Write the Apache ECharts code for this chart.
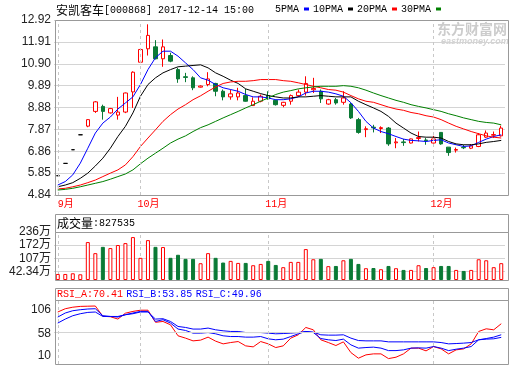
<!DOCTYPE html>
<html><head><meta charset="utf-8">
<script src="https://cdn.jsdelivr.net/npm/echarts@6/dist/echarts.min.js"></script>
<style>html,body{margin:0;padding:0;background:#fff}#c{width:520px;height:365px}</style>
</head><body><div id="c"></div>
<script>
const dates = ['2017-09-15','2017-09-18','2017-09-19','2017-09-20','2017-09-21','2017-09-22','2017-09-25','2017-09-26','2017-09-27','2017-09-28','2017-09-29',
'2017-10-09','2017-10-10','2017-10-11','2017-10-12','2017-10-13','2017-10-16','2017-10-17','2017-10-18','2017-10-19','2017-10-20','2017-10-23','2017-10-24','2017-10-25','2017-10-26','2017-10-27','2017-10-30','2017-10-31',
'2017-11-01','2017-11-02','2017-11-03','2017-11-06','2017-11-07','2017-11-08','2017-11-09','2017-11-10','2017-11-13','2017-11-14','2017-11-15','2017-11-16','2017-11-17','2017-11-20','2017-11-21','2017-11-22','2017-11-23','2017-11-24','2017-11-27','2017-11-28','2017-11-29','2017-11-30',
'2017-12-01','2017-12-04','2017-12-05','2017-12-06','2017-12-07','2017-12-08','2017-12-11','2017-12-12','2017-12-13','2017-12-14'];
const opens = [5.73,6.30,6.93,7.62,8.02,8.70,8.93,8.63,8.53,8.67,
9.60,10.97,11.59,11.68,11.13,11.28,10.63,10.30,10.25,9.82,
9.94,9.99,9.63,9.37,9.37,9.43,8.97,9.17,9.43,9.21,
8.98,9.17,9.43,9.59,9.70,9.63,9.04,9.24,9.12,9.04,
8.32,7.86,7.97,7.91,7.93,7.25,7.29,7.24,7.45,7.38,
7.24,7.73,7.05,6.91,7.04,7.00,7.08,7.51,7.60,7.57];
const closes = [5.73,6.30,6.93,7.62,8.32,9.14,8.70,8.83,8.67,9.55,
10.51,11.56,12.21,11.13,11.68,11.02,10.20,10.27,9.79,9.87,
10.20,9.63,9.37,9.51,9.55,9.17,9.17,9.40,9.28,9.01,
9.12,9.43,9.59,9.99,9.76,9.28,9.24,9.09,9.32,8.40,
7.73,7.90,7.94,7.95,7.20,7.29,7.26,7.43,7.49,7.35,
7.43,7.20,6.80,6.94,7.02,7.11,7.62,7.70,7.63,7.93];
const lows = [5.73,6.30,6.93,7.62,7.97,8.63,8.32,8.60,8.32,8.62,
8.86,10.93,11.28,11.10,10.76,10.97,10.02,10.05,9.68,9.80,
9.86,9.40,9.21,9.24,9.21,9.15,8.95,9.12,9.24,8.97,
8.89,9.01,9.37,9.43,9.55,9.09,9.01,9.01,9.01,8.35,
7.67,7.51,7.73,7.70,7.11,7.00,7.11,7.22,7.31,7.16,
7.22,7.16,6.65,6.80,6.96,6.96,7.05,7.47,7.47,7.54];
const highs = [5.73,6.30,6.93,7.62,8.34,9.18,9.01,8.86,9.37,9.57,
10.55,11.58,12.72,11.99,12.02,11.41,10.71,10.48,10.32,9.90,
10.51,10.02,9.71,9.71,9.79,9.74,9.35,9.48,9.63,9.24,
9.14,9.48,9.71,10.32,10.25,9.71,9.28,9.32,9.63,9.10,
8.40,8.01,8.08,8.01,7.98,7.47,7.43,7.45,7.77,7.47,
7.57,7.74,7.05,7.03,7.16,7.19,7.70,7.82,7.77,8.04];
// volume in 万
const volumes = [29.7,29.7,33,28,186.5,132,163,157,172,181.5,
211,109,196,163,162,109,124,104,104,82.5,
132,109,85.8,94,84,84,72.6,79,94,74,
63,89,89,152,102,104,68,69,97,104,
79,58,59,53,69,58,49.5,49.5,72.6,59,
63,69,69,49.5,44.5,49.5,102,97,63,82.7535];
const ma5 = [5.30,5.46,5.77,6.31,7.00,7.70,8.16,8.44,8.81,9.09,
9.37,9.94,10.63,11.18,11.48,11.48,11.25,10.94,10.63,10.25,
10.14,9.94,9.79,9.71,9.63,9.48,9.37,9.37,9.32,9.24,
9.24,9.28,9.37,9.55,9.63,9.63,9.59,9.51,9.40,9.10,
8.70,8.24,7.93,7.77,7.67,7.54,7.42,7.36,7.34,7.31,
7.36,7.39,7.24,7.16,7.08,7.11,7.27,7.42,7.54,7.62];
const ma10 = [5.22,5.30,5.41,5.61,5.85,6.18,6.54,7.00,7.54,8.01,
8.63,9.40,9.94,10.25,10.48,10.63,10.76,10.79,10.82,10.85,
10.71,10.48,10.32,10.14,9.99,9.74,9.63,9.52,9.43,9.37,
9.32,9.32,9.37,9.37,9.40,9.43,9.40,9.37,9.37,9.37,
9.17,9.01,8.86,8.70,8.47,8.16,7.93,7.70,7.54,7.51,
7.51,7.47,7.31,7.20,7.16,7.16,7.20,7.27,7.31,7.36];
const ma20 = [5.12,5.15,5.22,5.30,5.41,5.53,5.69,5.85,6.00,6.23,
6.61,7.08,7.47,7.85,8.24,8.55,8.81,9.01,9.24,9.42,
9.63,9.83,9.99,10.06,10.09,10.09,10.12,10.17,10.17,10.17,
10.12,10.09,10.02,9.94,9.86,9.79,9.71,9.68,9.59,9.43,
9.28,9.17,9.12,9.01,8.90,8.81,8.75,8.65,8.59,8.50,
8.44,8.32,8.16,8.01,7.89,7.77,7.67,7.57,7.51,7.47];
const ma30 = [5.07,5.10,5.15,5.22,5.30,5.38,5.46,5.57,5.69,5.81,
6.00,6.28,6.54,6.77,7.00,7.24,7.42,7.57,7.77,7.95,
8.08,8.24,8.40,8.55,8.70,8.86,9.01,9.17,9.32,9.48,
9.59,9.66,9.74,9.79,9.83,9.86,9.86,9.86,9.89,9.86,
9.79,9.68,9.55,9.43,9.32,9.21,9.12,9.01,8.93,8.86,
8.78,8.70,8.59,8.50,8.40,8.32,8.24,8.19,8.16,8.08];
const rsiA = [88.0,92.9,95.2,96.4,96.7,97.0,81.6,80.9,77.4,86.2,
88.9,90.7,90.7,72.6,73.8,68.8,52.3,48.8,44.7,45.8,
50.3,44.3,40.2,42.2,43.7,37.2,35.7,43.7,40.2,34.7,
37.2,48.8,53.8,64.8,61.3,46.3,42.2,37.7,43.2,27.1,
18.7,23.7,25.2,25.2,18.1,20.2,25.2,33.8,33.8,29.7,
36.2,32.7,25.2,31.2,32.7,40.2,58.8,62.8,61.3,70.41];
const rsiB = [80.4,86.5,89.9,91.4,92.5,92.9,82.4,81.3,80.4,83.9,
86.5,88.9,88.9,73.8,76.4,71.4,62.4,60.3,56.3,56.3,
57.2,55.3,52.3,51.2,51.2,50.3,50.3,51.2,47.8,46.3,
47.3,51.2,55.3,58.8,57.2,48.2,46.3,45.2,47.3,38.7,
33.8,34.7,35.3,33.8,30.1,30.1,31.2,33.8,34.2,33.8,
36.2,33.8,30.1,32.2,33.8,36.2,46.3,48.2,50.3,53.85];
const rsiC = [71.4,77.4,82.4,85.4,87.4,88.0,81.3,81.3,81.3,83.9,
85.4,88.0,88.0,77.4,77.9,73.8,66.3,64.8,62.4,62.4,
63.9,61.3,59.8,58.8,58.8,57.2,57.2,57.2,56.3,55.3,
55.7,56.3,57.2,58.8,57.8,53.8,53.3,53.3,53.8,48.8,
45.2,44.7,44.7,44.7,43.2,43.2,43.2,43.2,43.2,43.2,
43.2,42.2,40.2,40.7,41.3,42.2,46.3,47.3,47.8,49.96];
const priceTicks = [4.84,5.85,6.86,7.87,8.88,9.89,10.90,11.91,12.92];
const volTicks = [0,42.34,107,172,236];
const rsiTicks = [10,58,106];

const RED = '#ff0000', GREEN = '#0a7a35', GRID = '#d4d4d4', FRAME = '#999999', DASH = '#c8c8c8';
const monthStart = dates.map((d,i)=> i===0 || d.slice(5,7)!==dates[i-1].slice(5,7));
const monthDates = dates.filter((d,i)=>monthStart[i]);
const vLines = monthDates.map(d=>({xAxis:d, lineStyle:{color:DASH,type:[3,3],width:1}}));
const hLine = v => ({yAxis:v, lineStyle:{color:GRID,type:'solid',width:1}});
const ohlc = dates.map((d,i)=>[opens[i],closes[i],lows[i],highs[i]]);
const volData = volumes.map((v,i)=>{
  const up = closes[i] >= opens[i];
  return {value:v, itemStyle:{color: up?'#ffffff':GREEN, borderColor: up?RED:GREEN, borderWidth:1}};
});
const G = {left:54, width:451};
const mkX = (gi, show) => ({
  type:'category', gridIndex:gi, data:dates, boundaryGap:true,
  axisLine:{show:false}, axisTick:{show:false}, splitLine:{show:false},
  axisLabel: show ? {
    show:true, color:RED, fontSize:10, fontFamily:'Liberation Mono, Noto Sans CJK SC', margin:4,
    padding:[0,0,0,16],
    interval:(idx)=>monthStart[idx],
    formatter:(v)=>parseInt(v.slice(5,7),10)+'月'
  } : {show:false}
});
const lblBase = {color:'#222', fontSize:12, fontFamily:'Liberation Sans, Noto Sans CJK SC', margin:3};
const rf = {fontSize:12, fontFamily:'Liberation Sans', color:'#222'};
const maLine = (name, data, color) => ({
  name, type:'line', data, xAxisIndex:0, yAxisIndex:0, symbol:'none', showSymbol:false,
  lineStyle:{color, width:1}, itemStyle:{color}, z:3, animation:false, silent:true
});
const option = {
  animation:false,
  backgroundColor:'#ffffff',
  legend:{
    data:['5PMA','10PMA','20PMA','30PMA'], left:275, top:4, padding:0, align:'right', icon:'rect',
    itemWidth:5, itemHeight:3, itemGap:4, selectedMode:false,
    textStyle:{fontFamily:'Liberation Mono', fontSize:10, color:'#000'}
  },
  grid:[
    {left:G.left, width:G.width, top:20, height:175},
    {left:G.left, width:G.width, top:232, height:48},
    {left:G.left, width:G.width, top:300, height:64}
  ],
  xAxis:[mkX(0,true), mkX(1,false), mkX(2,false)],
  yAxis:[
    {type:'value', gridIndex:0, min:4.84, max:12.92, axisLine:{show:false},
     axisTick:{show:false, customValues:priceTicks},
     splitLine:{show:true, lineStyle:{color:GRID}},
     axisLabel:Object.assign({}, lblBase, {customValues:priceTicks, formatter:v=>v.toFixed(2)})},
    {type:'value', gridIndex:1, min:0, max:236, axisLine:{show:false},
     axisTick:{show:false, customValues:volTicks}, splitLine:{show:false},
     axisLabel:Object.assign({}, lblBase, {customValues:volTicks, formatter:v=> v===0?'0':v+'万'})},
    {type:'value', gridIndex:2, min:10, max:106, axisLine:{show:false},
     axisTick:{show:false, customValues:rsiTicks}, splitLine:{show:false},
     axisLabel:Object.assign({}, lblBase, {customValues:rsiTicks,
       formatter:v=> v===106?'{t|106}':(v===10?'{b|10}':'{m|'+v+'}'),
       rich:{t:Object.assign({padding:[19,0,0,0]},rf), b:Object.assign({padding:[0,0,17,0]},rf), m:Object.assign({padding:[4,0,0,0]},rf)}})}
  ],
  series:[
    {name:'K', type:'candlestick', data:ohlc, xAxisIndex:0, yAxisIndex:0, barWidth:4, z:2,
     itemStyle:{color:'#ffffff', color0:GREEN, borderColor:RED, borderColor0:GREEN, borderColorDoji:'#000000', borderWidth:1},
     markLine:{silent:true, symbol:['none','none'], label:{show:false}, animation:false, data:vLines}},
    maLine('5PMA', ma5, '#0000ff'),
    maLine('10PMA', ma10, '#000000'),
    maLine('20PMA', ma20, '#ff0000'),
    maLine('30PMA', ma30, '#008000'),
    {name:'VOL', type:'bar', data:volData, xAxisIndex:1, yAxisIndex:1, barWidth:4, silent:true,
     markLine:{silent:true, symbol:['none','none'], label:{show:false}, animation:false,
       data: vLines.concat(volTicks.slice(1,4).map(hLine)), z:0}},
    {name:'RSI_A', type:'line', data:rsiA, xAxisIndex:2, yAxisIndex:2, symbol:'none', lineStyle:{color:RED,width:1}, silent:true,
     markLine:{silent:true, symbol:['none','none'], label:{show:false}, animation:false,
       data: vLines.concat([hLine(58)])}},
    {name:'RSI_B', type:'line', data:rsiB, xAxisIndex:2, yAxisIndex:2, symbol:'none', lineStyle:{color:'#0000ff',width:1}, silent:true},
    {name:'RSI_C', type:'line', data:rsiC, xAxisIndex:2, yAxisIndex:2, symbol:'none', lineStyle:{color:'#0000ff',width:1}, silent:true}
  ],
  graphic:[
    {type:'text', x:56, y:10, style:{text:'{a|安凯客车}{b|[000868] '+dates[dates.length-1]+' 15:00}', verticalAlign:'middle',
      rich:{a:{fontFamily:'Noto Sans CJK SC', fontSize:12, fill:'#000'}, b:{fontFamily:'Liberation Mono', fontSize:10, fill:'#000'}}}},
    {type:'text', x:437, y:22, z:0, style:{text:'东方财富网', fontFamily:'Noto Sans CJK SC', fontWeight:'bold', fontSize:14, fill:'#cccccc'}},
    {type:'text', x:441, y:37, z:0, style:{text:'eastmoney.com', fontFamily:'Liberation Sans', fontWeight:'bold', fontStyle:'italic', fontSize:9, fill:'#d2d2d2'}},
    {type:'rect', shape:{x:55.5,y:20.5,width:453,height:175}, style:{fill:'transparent', stroke:FRAME, lineWidth:1}, z:50, silent:true},
    {type:'rect', shape:{x:55.5,y:214.5,width:453,height:18}, style:{fill:'transparent', stroke:FRAME, lineWidth:1}, z:50, silent:true},
    {type:'rect', shape:{x:55.5,y:232.5,width:453,height:48}, style:{fill:'transparent', stroke:FRAME, lineWidth:1}, z:50, silent:true},
    {type:'rect', shape:{x:55.5,y:288.5,width:453,height:12}, style:{fill:'transparent', stroke:FRAME, lineWidth:1}, z:50, silent:true},
    {type:'rect', shape:{x:55.5,y:300.5,width:453,height:64}, style:{fill:'transparent', stroke:FRAME, lineWidth:1}, z:50, silent:true},
    {type:'text', x:57, y:223.5, style:{text:'{a|成交量}{b|:'+Math.round(volumes[volumes.length-1]*10000)+'}', verticalAlign:'middle',
      rich:{a:{fontFamily:'Noto Sans CJK SC', fontSize:12, fill:'#000'}, b:{fontFamily:'Liberation Mono', fontSize:10, fill:'#000'}}}},
    {type:'text', x:57, y:294.5, style:{text:'{a|RSI_A:'+rsiA[rsiA.length-1].toFixed(2)+'} {b|RSI_B:'+rsiB[rsiB.length-1].toFixed(2)+'} {b|RSI_C:'+rsiC[rsiC.length-1].toFixed(2)+'}', verticalAlign:'middle',
      rich:{a:{fontFamily:'Liberation Mono', fontSize:10, fill:RED}, b:{fontFamily:'Liberation Mono', fontSize:10, fill:'#0000ff'}}}}
  ]
};
const chart = echarts.init(document.getElementById('c'), null, {renderer:'canvas'});
chart.setOption(option);
</script>
</body></html>
